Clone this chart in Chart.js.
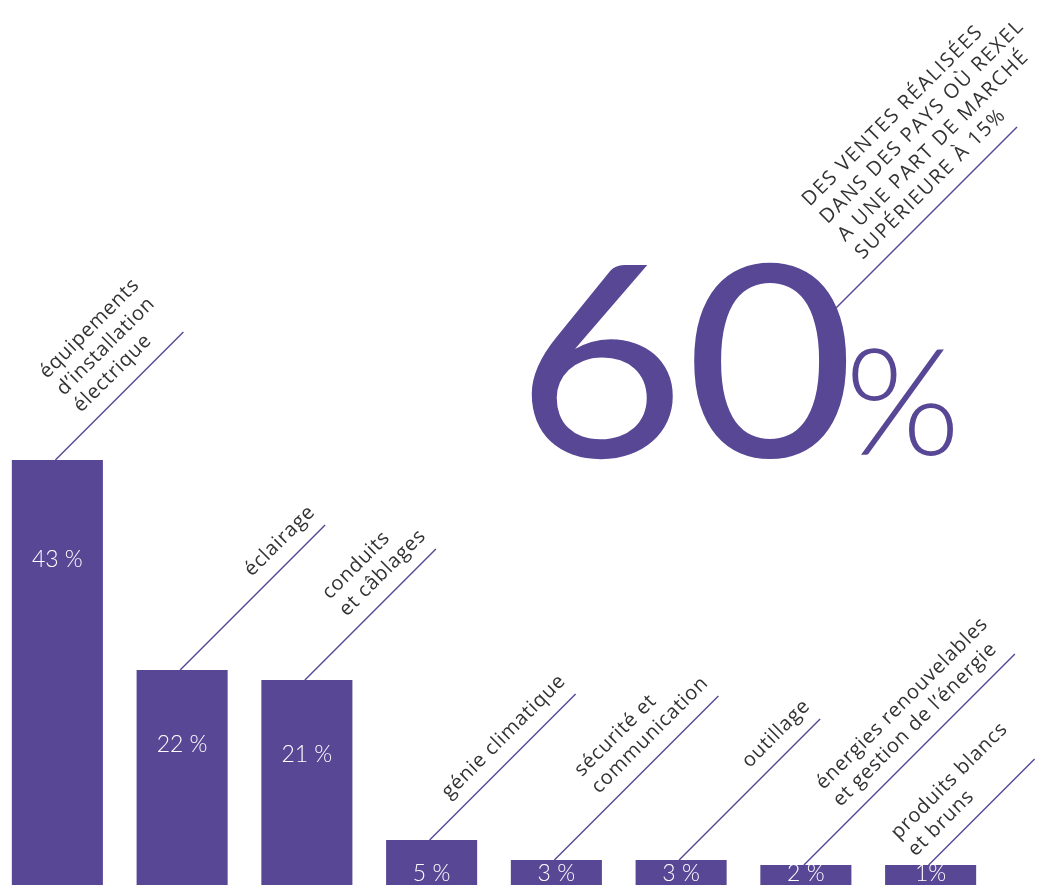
<!DOCTYPE html>
<html>
<head>
<meta charset="utf-8">
<script src="https://cdn.jsdelivr.net/npm/chart.js@4.4.0/dist/chart.umd.min.js"></script>
<style>
  html, body { margin: 0; padding: 0; background: #fff; overflow: hidden; width: 1063px; height: 885px; }
  #wrap { position: absolute; left: -5px; top: 0; width: 1070px; height: 900px; }
</style>
</head>
<body>
<div id="wrap"><canvas id="myChart"></canvas></div>
<script>
// catégories (texte sur plusieurs lignes)
const categories = [
  ['équipements', 'd’installation', 'électrique'],
  ['éclairage'],
  ['conduits', 'et câblages'],
  ['génie climatique'],
  ['sécurité et', 'communication'],
  ['outillage'],
  ['énergies renouvelables', 'et gestion de l’énergie'],
  ['produits blancs', 'et bruns'],
];
const shares = [43, 22, 21, 5, 3, 3, 2, 1];
const shareLabels = ['43 %', '22 %', '21 %', '5 %', '3 %', '3 %', '2 %', '1%'];
const headlineValue = '60';
const headlineUnit = '%';
const headlineText = ['DES VENTES RÉALISÉES', 'DANS DES PAYS OÙ REXEL', 'A UNE PART DE MARCHÉ', 'SUPÉRIEURE À 15%'];

const PURPLE = '#584795';
const TEXT = '#333333';
// longueur des traits de rappel (en px, horizontal)
const leaderRise = [128, 145, 131, 146, 164, 141, 211, 106];

// dessine un bloc de texte incliné à 45°, aligné à gauche
function slantedText(ctx, x, y, lines, font, lh, startU, spacing) {
  ctx.save();
  ctx.translate(x, y);
  ctx.rotate(-Math.PI / 4);
  ctx.font = font;
  ctx.letterSpacing = spacing || '0px';
  ctx.fillStyle = TEXT;
  ctx.textAlign = 'left';
  ctx.textBaseline = 'alphabetic';
  let maxW = 0;
  lines.forEach(l => { maxW = Math.max(maxW, ctx.measureText(l).width); });
  const u = startU === undefined ? -maxW + 2 : startU;
  lines.forEach((l, j) => {
    ctx.fillText(l, u, -15 - (lines.length - 1 - j) * lh);
  });
  ctx.restore();
}

const labelsPlugin = {
  id: 'labels',
  afterDatasetsDraw(chart) {
    const ctx = chart.ctx;
    const meta = chart.getDatasetMeta(0);
    meta.data.forEach((bar, i) => {
      const x0 = bar.x - 2;
      const y0 = bar.y;
      const L = leaderRise[i];
      ctx.save();
      ctx.strokeStyle = PURPLE;
      ctx.lineWidth = 1.4;
      ctx.beginPath();
      ctx.moveTo(x0, y0);
      ctx.lineTo(x0 + L, y0 - L);
      ctx.stroke();
      ctx.restore();
      slantedText(ctx, x0 + L, y0 - L, categories[i], '20px "Open Sans"', 24, undefined, '0.8px');

      // valeur dans la barre
      ctx.save();
      ctx.fillStyle = '#fff';
      ctx.font = '300 23px Lato';
      ctx.textAlign = 'center';
      ctx.textBaseline = 'middle';
      const off = shares[i] > 30 ? 100 : 75;
      ctx.fillText(shareLabels[i], bar.x, Math.min(y0 + off, 874));
      ctx.restore();
    });

    // grand chiffre 60 %
    ctx.save();
    ctx.fillStyle = PURPLE;
    ctx.textBaseline = 'alphabetic';
    ctx.font = '400 268px Lato';
    ctx.save();
    ctx.translate(521, 457);
    ctx.scale(1.09, 1);
    ctx.fillText(headlineValue, 0, 0);
    ctx.restore();
    ctx.font = '300 148px Lato';
    ctx.fillText(headlineUnit, 850, 455);
    ctx.strokeStyle = PURPLE;
    ctx.lineWidth = 1.4;
    ctx.beginPath();
    ctx.moveTo(827, 322);
    ctx.lineTo(1022, 127);
    ctx.stroke();
    ctx.restore();
    slantedText(ctx, 1022, 127, headlineText, '20px "Open Sans"', 25, -203, '1.6px');
  },
};

const config = {
  type: 'bar',
  data: {
    labels: categories.map(c => c.join(' ')),
    datasets: [{
      data: shares,
      backgroundColor: PURPLE,
      borderWidth: 0,
      barPercentage: 0.73,
      categoryPercentage: 1,
      minBarLength: 25,
    }],
  },
  options: {
    responsive: true,
    maintainAspectRatio: false,
    animation: false,
    layout: { padding: { left: 0, right: 72, top: 0, bottom: 10 } },
    scales: {
      x: { display: false },
      y: { display: false, min: 0, max: 89 },
    },
    plugins: {
      legend: { display: false },
      tooltip: { enabled: false },
    },
  },
  plugins: [labelsPlugin],
};

var myChart = new Chart(document.getElementById('myChart'), config);
</script>
</body>
</html>
